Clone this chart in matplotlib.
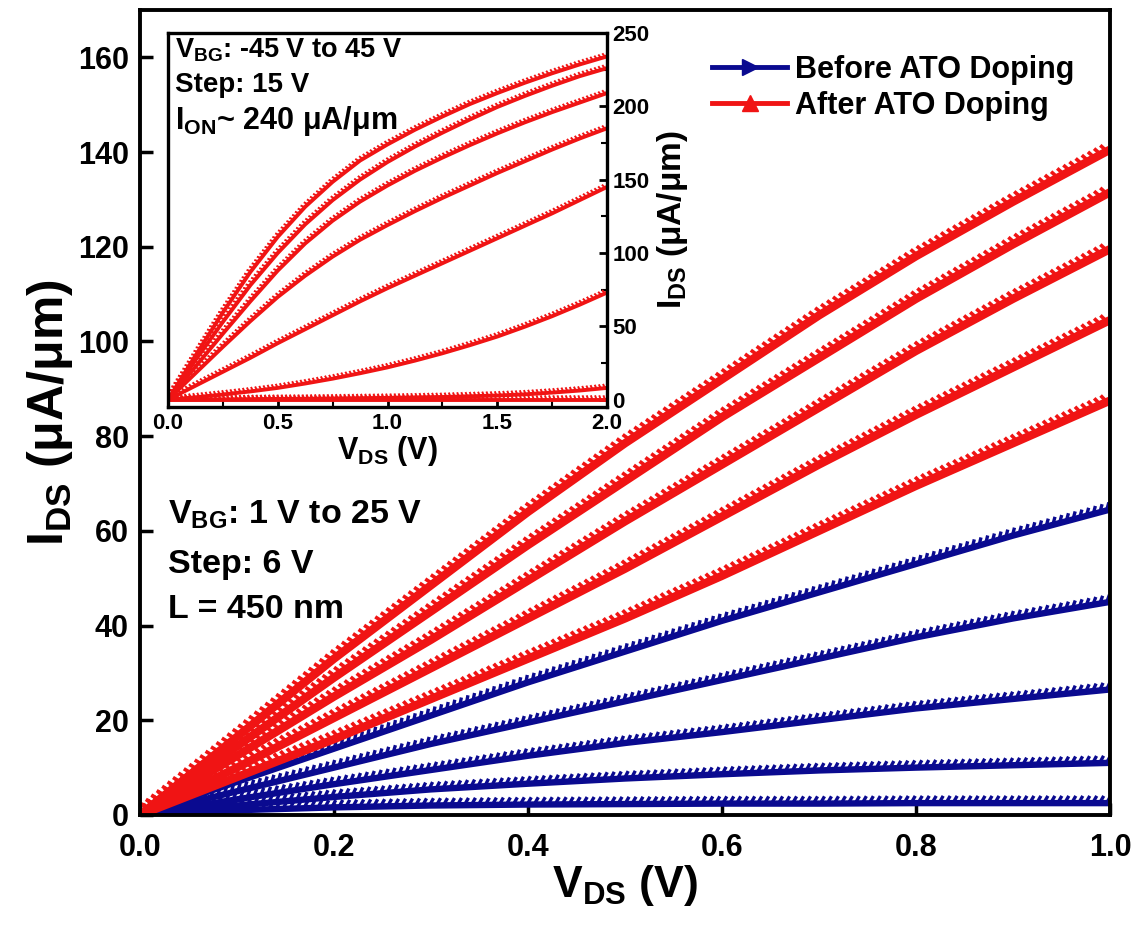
import matplotlib
matplotlib.use('Agg')
import matplotlib.pyplot as plt
import matplotlib.patheffects as pe
from matplotlib.lines import Line2D
from matplotlib.ticker import MultipleLocator, FormatStrFormatter

plt.rcParams['font.family'] = ['Liberation Sans', 'DejaVu Sans']
plt.rcParams['font.weight'] = 'bold'
plt.rcParams['axes.labelweight'] = 'bold'
plt.rcParams['mathtext.fontset'] = 'custom'
plt.rcParams['mathtext.rm'] = 'Liberation Sans:bold'
plt.rcParams['mathtext.it'] = 'Liberation Sans:bold'
plt.rcParams['mathtext.bf'] = 'Liberation Sans:bold'
plt.rcParams['mathtext.default'] = 'bf'

BLUE = '#0a0a90'
RED = '#f01414'

# MAIN PLOT DATA (V_DS in V, I_DS in uA/um)
vds = [0.0, 0.1, 0.2, 0.3, 0.4, 0.5, 0.6, 0.7, 0.8, 0.9, 1.0]

before_1 = [0, 1.0, 1.6, 2.0, 2.2, 2.3, 2.4, 2.4, 2.5, 2.5, 2.5]
before_2 = [0, 2.0, 3.8, 5.4, 6.6, 7.7, 8.6, 9.4, 10.0, 10.5, 11.0]
before_3 = [0, 3.3, 6.5, 9.5, 12.5, 15.2, 17.5, 20.0, 22.5, 24.5, 26.5]
before_4 = [0, 5.0, 10.0, 15.0, 19.5, 24.0, 28.5, 33.0, 37.5, 41.5, 45.0]
before_5 = [0, 7.0, 14.0, 21.0, 28.0, 34.5, 41.0, 47.0, 53.0, 59.0, 64.5]

after_1 = [0, 8.0, 16.0, 24.5, 33.0, 41.5, 50.5, 60.0, 69.5, 78.5, 87.5]
after_2 = [0, 10.0, 20.5, 31.0, 41.5, 52.0, 63.0, 74.0, 84.5, 94.5, 104.5]
after_3 = [0, 12.5, 25.0, 37.0, 49.5, 62.0, 74.0, 86.0, 98.0, 109.0, 119.5]
after_4 = [0, 14.5, 29.0, 43.0, 57.0, 70.5, 84.0, 96.5, 109.0, 120.5, 131.5]
after_5 = [0, 16.5, 33.0, 48.5, 64.0, 78.5, 92.0, 105.5, 118.0, 129.5, 140.5]

# INSET DATA (V_BG -45 V to 45 V, step 15 V)
ins_vds = [0.0, 0.125, 0.25, 0.375, 0.5, 0.625, 0.75, 0.875, 1.0,
	1.125, 1.25, 1.375, 1.5, 1.625, 1.75, 1.875, 2.0]
ins_1 = [0, 0, 0, 0, 0, 0, 0, 0, 0, 0, 0, 0, 0, 0, 0, 0, 0]
ins_2 = [0, 0.1, 0.2, 0.35, 0.5, 0.6, 0.8, 1.0, 1.2, 1.5, 1.8, 2.3, 2.8, 3.6, 4.8, 6.2, 8.0]
ins_3 = [0, 1.6, 3.5, 5.6, 8.0, 11.0, 14.3, 18.0, 22.0, 26.6, 31.6, 37.1, 43.0, 49.7, 56.9, 64.7, 73.0]
ins_4 = [0, 9.5, 19.0, 28.5, 38.5, 48.0, 57.5, 67.0, 76.0, 84.5, 93.0, 101.5, 110.0, 118.5, 127.0, 136.0, 145.0]
ins_5 = [0, 18.0, 36.0, 53.5, 70.0, 84.5, 97.5, 109.0, 119.0, 128.5, 137.5, 146.0, 154.5, 162.5, 170.5, 178.0, 185.0]
ins_6 = [0, 22.5, 45.0, 67.0, 88.0, 106.5, 122.0, 135.0, 146.0, 156.0, 165.0, 173.5, 181.5, 189.0, 196.0, 202.5, 209.0]
ins_7 = [0, 27.0, 53.0, 78.0, 100.0, 119.5, 136.0, 150.0, 162.0, 172.5, 182.0, 191.0, 199.5, 207.0, 214.0, 220.5, 226.0]
ins_8 = [0, 30.0, 59.5, 87.0, 111.0, 131.5, 148.5, 163.0, 174.0, 184.0, 193.0, 201.5, 209.0, 216.0, 222.5, 228.5, 234.0]


def band(ax, x, y, color, lw, spacing, angle, length, tick_lw):
	'''
	Thick line with saw-tooth ticks, mimics densely packed triangle markers
	'''
	ax.plot(x, y, color=color, lw=lw, solid_joinstyle='round', solid_capstyle='butt',
		path_effects=[pe.TickedStroke(spacing=spacing, angle=angle, length=length, linewidth=tick_lw),
			pe.Normal()])


fig = plt.figure(figsize=(11.4, 9.3), dpi=100)
ax = fig.add_axes([0.1228, 0.1237, 0.8509, 0.8656])

for ys in [before_1, before_2, before_3, before_4, before_5]:
	band(ax, vds, ys, BLUE, 4.6, 5.0, 60, 1.2, 2.4)
for ys in [after_1, after_2, after_3, after_4, after_5]:
	band(ax, vds, ys, RED, 6.0, 5.0, 110, 1.3, 2.6)

ax.set_xlim(0, 1.0)
ax.set_ylim(0, 170)
ax.xaxis.set_major_locator(MultipleLocator(0.2))
ax.yaxis.set_major_locator(MultipleLocator(20))
ax.xaxis.set_major_formatter(FormatStrFormatter('%.1f'))
ax.tick_params(direction='in', length=9, width=2.5, labelsize=22)
ax.tick_params(axis='x', pad=13)
ax.tick_params(axis='y', pad=8)
for s in ax.spines.values():
	s.set_linewidth(2.8)
ax.set_xlabel(r'$V_{DS}$ (V)', fontsize=32, labelpad=0)
ax.set_ylabel(r'$I_{DS}$ (μA/μm)', fontsize=36, labelpad=2)

ax.text(0.029, 0.373, r'$V_{BG}$: 1 V to 25 V', transform=ax.transAxes, fontsize=24.5, va='center')
ax.text(0.029, 0.311, 'Step: 6 V', transform=ax.transAxes, fontsize=24.5, va='center')
ax.text(0.029, 0.255, 'L = 450 nm', transform=ax.transAxes, fontsize=24.5, va='center')

handles = [Line2D([], [], color=BLUE, lw=3.5, marker='>', markersize=11),
	Line2D([], [], color=RED, lw=3.5, marker='^', markersize=11)]
ax.legend(handles, ['Before ATO Doping', 'After ATO Doping'], loc='upper left',
	bbox_to_anchor=(0.59, 0.944), frameon=False, fontsize=22, handlelength=2.45,
	handletextpad=0.26, labelspacing=0.18, borderpad=0, borderaxespad=0, numpoints=1)

# INSET
axi = fig.add_axes([0.1474, 0.5624, 0.3851, 0.4022])
for ys in [ins_1, ins_2, ins_3, ins_4, ins_5, ins_6, ins_7, ins_8]:
	band(axi, ins_vds, ys, RED, 2.8, 3.0, 110, 1.1, 1.4)
axi.set_xlim(0, 2.0)
axi.set_ylim(-5, 250)
axi.xaxis.set_major_locator(MultipleLocator(0.5))
axi.xaxis.set_minor_locator(MultipleLocator(0.25))
axi.yaxis.set_major_locator(MultipleLocator(50))
axi.yaxis.set_minor_locator(MultipleLocator(25))
axi.xaxis.set_major_formatter(FormatStrFormatter('%.1f'))
axi.yaxis.tick_right()
axi.yaxis.set_label_position('right')
axi.tick_params(which='major', direction='in', length=6, width=2, labelsize=16, pad=4)
axi.tick_params(which='minor', direction='in', length=4, width=1.5)
for s in axi.spines.values():
	s.set_linewidth(2.4)
axi.set_xlabel(r'$V_{DS}$ (V)', fontsize=22, labelpad=0)
axi.set_ylabel(r'$I_{DS}$ (μA/μm)', fontsize=24, labelpad=4)

axi.text(0.016, 0.955, r'$V_{BG}$: -45 V to 45 V', transform=axi.transAxes, fontsize=19.5, va='center')
axi.text(0.016, 0.861, 'Step: 15 V', transform=axi.transAxes, fontsize=20, va='center')
axi.text(0.016, 0.765, r'$I_{ON}$~ 240 μA/μm', transform=axi.transAxes, fontsize=22, va='center')

plt.savefig('out.png', dpi=100)
plt.close()
